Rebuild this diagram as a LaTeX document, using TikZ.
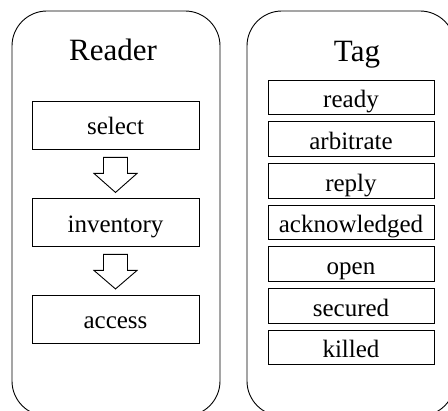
\documentclass[tikz,border=0pt]{standalone}
\usepackage{fontspec}
\setmainfont{Liberation Serif}
\usetikzlibrary{calc}
\tikzset{
  panel/.style={draw, line width=0.9pt, rounded corners=35pt, minimum width=208pt, minimum height=405pt, inner sep=0pt},
  title/.style={anchor=base, inner sep=0pt, font=\fontsize{31}{36}\selectfont},
  readerbox/.style={draw, line width=0.9pt, minimum width=167pt, minimum height=48pt, inner sep=0pt,
    text height=24pt, text depth=4pt, font=\fontsize{25}{29}\selectfont},
  tagbox/.style={draw, line width=0.9pt, minimum width=166pt, minimum height=34.5pt, inner sep=0pt,
    text height=24pt, text depth=3pt, font=\fontsize{25}{29}\selectfont},
  blockarrow/.style={draw, line width=0.9pt, line join=miter, fill=white}
}
\begin{document}
\begin{tikzpicture}[x=1pt,y=-1pt]
\useasboundingbox (0,0) rectangle (448,411);
\clip (0,0) rectangle (448,411);
% panels
\node[panel] (reader) at (116,213.5) {};
\node[panel] (tag) at (351,213.5) {};
% titles
\node[title] (readert) at (113,61) {Reader};
\node[title] (tagt) at (357,62) {Tag};
% reader boxes
\node[readerbox] (sel) at (115.5,125) {select};
\node[readerbox] (inv) at (115.5,222.5) {inventory};
\node[readerbox] (acc) at (115.5,319) {access};
% block arrows
\draw[blockarrow] ($(sel.south)+(-12,8)$) -- ++(0,16) -- ++(-9.5,0) -- ++(21.5,19) -- ++(21.5,-19) -- ++(-9.5,0) -- ++(0,-16) -- cycle;
\draw[blockarrow] ($(inv.south)+(-12,7.5)$) -- ++(0,16) -- ++(-9.5,0) -- ++(21.5,18.5) -- ++(21.5,-18.5) -- ++(-9.5,0) -- ++(0,-16) -- cycle;
% tag boxes
\node[tagbox] (ready) at (351,97.5) {ready};
\node[tagbox] (arb) at (351,139.2) {arbitrate};
\node[tagbox] (rep) at (351,180.8) {reply};
\node[tagbox] (ack) at (351,222.5) {acknowledged};
\node[tagbox] (open) at (351,264.2) {open};
\node[tagbox] (sec) at (351,305.8) {secured};
\node[tagbox] (kil) at (351,347.5) {killed};
\end{tikzpicture}
\end{document}
